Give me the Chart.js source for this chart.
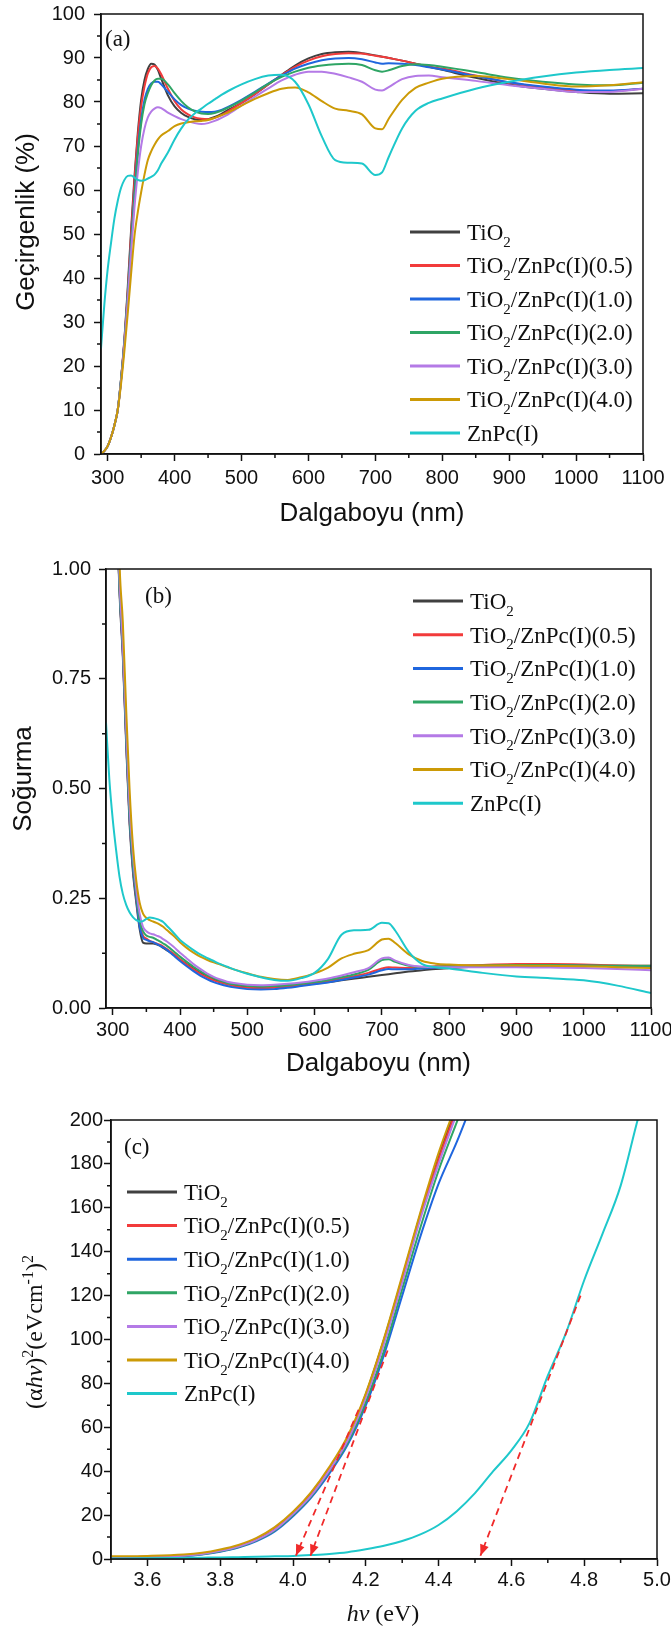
<!DOCTYPE html>
<html>
<head>
<meta charset="utf-8">
<script src="https://cdn.jsdelivr.net/npm/chart.js@4.4.0/dist/chart.umd.min.js"></script>
<style>
  html, body { margin: 0; padding: 0; background: #fff; }
  #wrap { position: relative; width: 671px; height: 1634px; overflow: hidden; }
  canvas { position: absolute; left: 0; }
</style>
</head>
<body>
<div id="wrap">
  <canvas id="chartA" width="671" height="545" style="top:0"></canvas>
  <canvas id="chartB" width="671" height="555" style="top:545px"></canvas>
  <canvas id="chartC" width="671" height="534" style="top:1100px"></canvas>
</div>
<script>
// ---- veriler ----
const seriesNames = ['TiO_{2}', 'TiO_{2}/ZnPc(I)(0.5)', 'TiO_{2}/ZnPc(I)(1.0)', 'TiO_{2}/ZnPc(I)(2.0)',
    'TiO_{2}/ZnPc(I)(3.0)', 'TiO_{2}/ZnPc(I)(4.0)', 'ZnPc(I)'];

// dalga boyu (nm), panel a ve b
const wl = [290,295,300,305,310,315,320,325,330,335,340,345,350,355,360,365,370,375,380,
    390,400,410,420,430,440,450,460,470,480,500,520,540,560,580,600,620,640,660,680,
    700,710,720,740,760,780,800,850,900,950,1000,1050,1100];
const wlTicks = [300,400,500,600,700,800,900,1000,1100];

// (a) gecirgenlik (%)
const transTicks = [0,10,20,30,40,50,60,70,80,90,100];
const tTiO2 = [0,0.7,1.8,3.8,6.5,10,17,26,38,51,63,73,80.5,85,87.5,88.7,88.5,87.3,85.3,
    81.5,79,77.5,76.6,76.1,75.9,76.1,76.6,77.3,78.2,79.8,81.8,84,86.2,88.3,89.9,90.9,91.3,91.4,91.1,
    90.6,90.3,90,89.4,88.7,88,87.3,85.5,84,83,82.3,81.9,82];
const tZ05 = [0,0.7,1.8,3.8,6.5,10,17,26,37,50,62,72,79,83.5,86.5,87.9,88.2,87.6,86.3,
    83,80.2,78.3,77.2,76.5,76.2,76.1,76.4,77,77.9,79.8,81.8,84,86.1,88,89.4,90.4,90.9,91.1,91,
    90.5,90.3,90,89.4,88.7,88,87.6,86,84.4,83.4,82.6,82.5,83];
const tZ10 = [0,0.7,1.8,3.8,6.5,10,17,25.5,36,48,59,69,76,80.5,83,84.2,84.6,84.6,84,
    82.3,80.6,79.3,78.5,78,77.8,77.7,77.8,78.2,78.9,80.5,82.3,84.2,86,87.6,88.7,89.5,89.9,90,89.7,
    89,88.7,88.8,88.7,88.4,87.9,87.4,85.9,84.5,83.5,82.8,82.6,83];
const tZ20 = [0,0.7,1.8,3.8,6.5,10,17,25.5,36,47.5,58.5,68,75,79.5,82,83.8,84.9,85.3,85.3,
    84,82,80.2,78.8,77.9,77.4,77.3,77.5,78,78.7,80.3,82.2,84.1,85.7,86.9,87.8,88.3,88.6,88.7,88.4,
    87.2,86.9,87.2,88.2,88.6,88.4,88,86.8,85.5,84.6,84,83.8,84.4];
const tZ30 = [0,0.7,1.8,3.8,6.5,10,16.5,25,35,46,56,64,70,74,76.5,77.8,78.5,78.8,78.6,
    77.6,76.8,76.1,75.6,75.2,75,75.2,75.7,76.4,77.2,79.2,81.2,83.1,84.9,86.2,86.9,86.9,86.4,85.6,84.6,
    82.8,82.6,83.4,85.2,85.9,86,85.6,84.8,83.8,83,82.3,82.3,83];
const tZ40 = [0,0.7,1.8,3.8,6.5,10,16,23.5,32,41,49.5,55,59.5,63.5,66.8,68.8,70.3,71.5,72.4,
    73.4,74.5,75.1,75.4,75.6,75.7,75.9,76.4,77,77.6,79.2,80.7,82,83,83.3,82.2,80.2,78.5,78,77.2,
    74,73.8,76.2,80.5,83.2,84.4,85.3,85.9,85.2,84.2,83.5,83.8,84.5];
const tZnPc = [24,34,42,48,53.5,57.5,60.5,62.3,63.2,63.3,62.8,62.3,62.1,62.2,62.6,63,63.5,64.5,66,
    68.5,71.5,74,76,77.4,78.5,79.6,80.6,81.6,82.5,84,85.2,86,86.2,84.6,79.5,72.2,66.8,66.2,66,
    63.4,64,67.5,74,78,79.8,80.8,83,84.6,85.8,86.7,87.3,87.7];

// (b) sogurma
const absTicks = [0,0.25,0.5,0.75,1];
const aTiO2 = [3,2.6,2,1.25,0.95,0.8,0.6,0.42,0.31,0.24,0.18,0.149,0.147,0.147,0.147,0.145,0.142,0.137,0.132,
    0.122,0.11,0.1,0.09,0.08,0.072,0.066,0.06,0.056,0.052,0.048,0.047,0.049,0.052,0.054,0.056,0.059,0.063,0.067,0.071,
    0.075,0.077,0.079,0.083,0.086,0.089,0.091,0.095,0.097,0.097,0.097,0.096,0.095];
const aZ05 = [3,2.6,2,1.25,0.96,0.81,0.61,0.43,0.32,0.25,0.19,0.165,0.158,0.153,0.15,0.147,0.144,0.14,0.135,
    0.124,0.111,0.099,0.088,0.078,0.07,0.063,0.058,0.054,0.05,0.046,0.045,0.046,0.049,0.052,0.056,0.061,0.067,0.073,0.08,
    0.09,0.093,0.092,0.091,0.093,0.095,0.096,0.098,0.1,0.1,0.099,0.097,0.096];
const aZ10 = [3,2.6,2,1.25,0.96,0.81,0.61,0.43,0.32,0.25,0.185,0.16,0.155,0.152,0.15,0.146,0.142,0.138,0.133,
    0.12,0.107,0.095,0.084,0.074,0.066,0.059,0.054,0.05,0.047,0.043,0.042,0.043,0.046,0.05,0.054,0.058,0.064,0.07,0.076,
    0.086,0.089,0.088,0.088,0.09,0.092,0.093,0.095,0.096,0.096,0.096,0.095,0.094];
const aZ20 = [3,2.6,2,1.25,0.96,0.82,0.62,0.44,0.33,0.26,0.2,0.175,0.165,0.162,0.16,0.156,0.152,0.147,0.142,
    0.13,0.117,0.105,0.094,0.084,0.075,0.068,0.062,0.057,0.054,0.05,0.049,0.05,0.052,0.055,0.059,0.064,0.07,0.077,0.087,
    0.109,0.111,0.105,0.096,0.093,0.094,0.095,0.097,0.098,0.098,0.097,0.096,0.096];
const aZ30 = [3,2.6,2,1.28,0.98,0.83,0.64,0.46,0.35,0.27,0.215,0.185,0.175,0.17,0.168,0.165,0.162,0.157,0.152,
    0.14,0.126,0.113,0.1,0.089,0.079,0.071,0.065,0.06,0.057,0.053,0.052,0.053,0.055,0.058,0.062,0.067,0.074,0.082,0.091,
    0.113,0.115,0.108,0.098,0.094,0.093,0.093,0.093,0.093,0.092,0.091,0.089,0.086];
const aZ40 = [3,2.7,2.1,1.4,1.02,0.88,0.68,0.5,0.37,0.29,0.24,0.215,0.205,0.2,0.197,0.194,0.19,0.185,0.178,
    0.165,0.15,0.137,0.126,0.117,0.11,0.104,0.099,0.093,0.088,0.079,0.071,0.066,0.064,0.07,0.079,0.092,0.113,0.124,0.132,
    0.156,0.158,0.148,0.122,0.107,0.101,0.099,0.097,0.097,0.096,0.095,0.093,0.091];
const aZnPc = [0.65,0.52,0.43,0.36,0.3,0.26,0.235,0.218,0.207,0.2,0.197,0.198,0.203,0.206,0.205,0.203,0.2,0.196,0.188,
    0.172,0.155,0.143,0.132,0.122,0.114,0.107,0.1,0.094,0.088,0.078,0.07,0.064,0.062,0.068,0.08,0.112,0.167,0.177,0.178,
    0.194,0.193,0.176,0.128,0.1,0.093,0.09,0.08,0.072,0.068,0.063,0.051,0.034];

// (c) Tauc grafigi
const ev = [3.5,3.6,3.7,3.75,3.8,3.85,3.9,3.95,4.0,4.05,4.1,4.15,4.2,4.25,4.3,4.35,4.4,4.45,4.5,
    4.55,4.6,4.65,4.7,4.75,4.8,4.85,4.9,4.95,5.0];
const evTicks = [3.6,3.8,4.0,4.2,4.4,4.6,4.8,5.0];
const taucTicks = [0,20,40,60,80,100,120,140,160,180,200];
const none10 = [null,null,null,null,null,null,null,null,null,null];
const eTiO2 = [0.8,1,1.6,2.4,3.8,5.8,8.8,13.3,20.5,29.5,40.5,54.5,75,100,128,157,183,207,230].concat(none10);
const eZ05 = [0.8,1,1.6,2.4,3.8,5.8,8.9,13.5,21,30,41,55,74.5,99.5,127,156,182,205,228].concat(none10);
const eZ10 = [0.7,0.9,1.3,2,3.3,5.2,8.2,12.6,19.5,28,39,52,70,93,120,147,171,190,211].concat(none10);
const eZ20 = [0.7,0.9,1.4,2.2,3.5,5.5,8.5,13,20,28.5,40,53,71.5,95,123,151,177,199,221].concat(none10);
const eZ30 = [0.8,1,1.5,2.3,3.7,5.7,8.7,13.3,20.5,29,40.5,54,73.5,98,126,155,180,203,226].concat(none10);
const eZ40 = [1.2,1.4,2,2.8,4.3,6.4,9.6,14.5,21.5,30.5,42,56,75.5,100.5,129,158,185,208,231].concat(none10);
const eZnPc = [0.2,0.3,0.5,0.6,0.7,0.85,1,1.2,1.4,1.8,2.3,3.1,4.4,6,8.2,11.2,15.5,21.8,30,
    40,49.5,62,83.5,103,127,148,170,202,230];
// bant araligi teget cizgileri (baslangic, bitis)
const gapLines = [[[4.18, 68], [4.008, 1.5]], [[4.26, 95], [4.048, 1.5]], [[4.79, 120], [4.515, 1.5]]];

// ---- stil ----
const seriesColors = ['#404040', '#f23b3b', '#1f66de', '#2fa565', '#b47ae6', '#cc9a06', '#1ec8cb'];
const sans = '"Liberation Sans", Arial, sans-serif';
const serif = '"Liberation Serif", "Times New Roman", serif';

function makeSets(xs, cols) {
    return cols.map((ys, i) => ({
        label: seriesNames[i],
        data: xs.map((x, j) => ({ x: x, y: ys[j] })),
        borderColor: seriesColors[i],
        borderWidth: 2,
        pointRadius: 0,
        cubicInterpolationMode: 'monotone',
        order: cols.length - i
    }));
}

// alt/ust simge ve italik destekli yazi
function drawRich(ctx, str, x, y, size, align, rot, family) {
    const fam = family || serif;
    const parts = [];
    str.split(/(_\{[^}]*\}|\^\{[^}]*\}|\*[^*]+\*)/).forEach(p => {
        if (!p) return;
        if (p[0] === '_') parts.push({ t: p.slice(2, -1), k: 'sub' });
        else if (p[0] === '^') parts.push({ t: p.slice(2, -1), k: 'sup' });
        else if (p[0] === '*') parts.push({ t: p.slice(1, -1), k: 'it' });
        else parts.push({ t: p, k: 'n' });
    });
    const fontOf = k => (k === 'it' ? 'italic ' : '') +
        Math.round(k === 'sub' || k === 'sup' ? size * 0.65 : size) + 'px ' + fam;
    let w = 0;
    parts.forEach(p => { ctx.font = fontOf(p.k); p.w = ctx.measureText(p.t).width; w += p.w; });
    ctx.save();
    ctx.translate(x, y);
    if (rot) ctx.rotate(rot);
    ctx.textAlign = 'left';
    ctx.textBaseline = 'alphabetic';
    let cx = align === 'center' ? -w / 2 : 0;
    parts.forEach(p => {
        ctx.font = fontOf(p.k);
        const dy = p.k === 'sub' ? size * 0.3 : (p.k === 'sup' ? -size * 0.4 : 0);
        ctx.fillText(p.t, cx, size * 0.35 + dy);
        cx += p.w;
    });
    ctx.restore();
}

// cerceve, ara tikler, oklar, lejant, yazilar
const decor = {
    id: 'decor',
    afterDatasetsDraw(chart, args, o) {
        const { ctx, chartArea: a, scales: { x, y } } = chart;
        ctx.save();
        ctx.strokeStyle = '#111';
        ctx.lineWidth = 1.5;
        ctx.strokeRect(a.left, a.top, a.right - a.left, a.bottom - a.top);

        ctx.beginPath();
        const minor = (sc, step, fn) => {
            const major = sc.ticks.map(t => t.value);
            for (let i = Math.ceil(sc.min / step - 1e-9); i * step <= sc.max + 1e-9; i++) {
                const v = i * step;
                if (major.some(m => Math.abs(m - v) < step / 10)) continue;
                fn(sc.getPixelForValue(v));
            }
        };
        minor(x, o.minorX, px => { ctx.moveTo(px, a.bottom); ctx.lineTo(px, a.bottom + 4); });
        minor(y, o.minorY, py => { ctx.moveTo(a.left, py); ctx.lineTo(a.left - 4, py); });
        ctx.stroke();

        chart.data.datasets.forEach((ds, i) => {
            if (!ds.arrow) return;
            const pts = chart.getDatasetMeta(i).data;
            const p = pts[pts.length - 1], q = pts[pts.length - 2];
            ctx.save();
            ctx.translate(p.x, p.y);
            ctx.rotate(Math.atan2(p.y - q.y, p.x - q.x));
            ctx.fillStyle = ds.borderColor;
            ctx.beginPath();
            ctx.moveTo(0, 0); ctx.lineTo(-11, -4.5); ctx.lineTo(-11, 4.5);
            ctx.closePath(); ctx.fill();
            ctx.restore();
        });

        if (o.legend) {
            const L = o.legend;
            let k = 0;
            chart.data.datasets.forEach(ds => {
                if (ds.arrow) return;
                const yy = L.y + k * L.dy;
                ctx.strokeStyle = ds.borderColor;
                ctx.lineWidth = 3;
                ctx.beginPath(); ctx.moveTo(L.x, yy); ctx.lineTo(L.x + 50, yy); ctx.stroke();
                ctx.fillStyle = '#111';
                drawRich(ctx, ds.label, L.x + 57, yy, 22.5, 'left');
                k++;
            });
        }
        ctx.fillStyle = '#111';
        (o.texts || []).forEach(t => drawRich(ctx, t.s, t.x, t.y, t.size || 23, t.align || 'left', t.rot, t.sans ? sans : serif));
        ctx.restore();
    }
};

function xScale(min, max, ticks, fmt, h, tickPad, title, titlePad) {
    return {
        type: 'linear', min: min, max: max,
        afterBuildTicks: s => { s.ticks = ticks.map(v => ({ value: v })); },
        afterFit: s => { s.height = h; s.paddingLeft = 0; s.paddingRight = 0; },
        ticks: { callback: fmt, font: { family: sans, size: 20 }, color: '#111', padding: tickPad, maxRotation: 0, autoSkip: false },
        grid: { drawOnChartArea: false, tickLength: 7, tickWidth: 1.5, tickColor: '#111' },
        border: { width: 1.5, color: '#111' },
        title: title ? { display: true, text: title, color: '#111', font: { family: sans, size: 26 }, padding: { top: 0, bottom: titlePad } } : { display: false }
    };
}
function yScale(min, max, ticks, fmt, w, tickPad) {
    return {
        type: 'linear', min: min, max: max,
        afterBuildTicks: s => { s.ticks = ticks.map(v => ({ value: v })); },
        afterFit: s => { s.width = w; s.paddingTop = 0; s.paddingBottom = 0; },
        ticks: { callback: fmt, font: { family: sans, size: 20 }, color: '#111', padding: tickPad, autoSkip: false },
        grid: { drawOnChartArea: false, tickLength: 7, tickWidth: 1.5, tickColor: '#111' },
        border: { width: 1.5, color: '#111' }
    };
}
const baseOpts = { responsive: false, animation: false, events: [] };

// (a)
new Chart(document.getElementById('chartA'), {
    type: 'line',
    data: { datasets: makeSets(wl, [tTiO2, tZ05, tZ10, tZ20, tZ30, tZ40, tZnPc]) },
    options: Object.assign({}, baseOpts, {
        layout: { padding: { top: 14, right: 28, left: 0, bottom: 0 } },
        plugins: {
            legend: { display: false }, tooltip: { enabled: false },
            decor: {
                minorX: 50, minorY: 5, legend: { x: 410, y: 232, dy: 33.5 },
                texts: [
                    { s: '(a)', x: 105, y: 38 },
                    { s: 'Geçirgenlik (%)', x: 25, y: 222, size: 26, align: 'center', rot: -Math.PI / 2, sans: true }
                ]
            }
        },
        scales: {
            x: xScale(290, 1100, wlTicks, v => v, 91, 5, 'Dalgaboyu (nm)', 16),
            y: yScale(0, 100, transTicks, v => v, 101, 9)
        }
    }),
    plugins: [decor]
});

// (b)
new Chart(document.getElementById('chartB'), {
    type: 'line',
    data: { datasets: makeSets(wl, [aTiO2, aZ05, aZ10, aZ20, aZ30, aZ40, aZnPc]) },
    options: Object.assign({}, baseOpts, {
        layout: { padding: { top: 24, right: 20, left: 0, bottom: 0 } },
        plugins: {
            legend: { display: false }, tooltip: { enabled: false },
            decor: {
                minorX: 50, minorY: 0.125, legend: { x: 413, y: 56, dy: 33.7 },
                texts: [
                    { s: '(b)', x: 145, y: 50 },
                    { s: 'Soğurma', x: 22, y: 234, size: 26, align: 'center', rot: -Math.PI / 2, sans: true }
                ]
            }
        },
        scales: {
            x: xScale(290, 1100, wlTicks, v => v, 92, 3, 'Dalgaboyu (nm)', 21),
            y: yScale(0, 1, absTicks, v => v.toFixed(2), 106, 8)
        }
    }),
    plugins: [decor]
});

// (c)
const tauSets = makeSets(ev, [eTiO2, eZ05, eZ10, eZ20, eZ30, eZ40, eZnPc]);
gapLines.forEach(g => tauSets.push({
    label: '', arrow: true,
    data: g.map(p => ({ x: p[0], y: p[1] })),
    borderColor: '#f02a2a', borderWidth: 1.8, borderDash: [7, 5], pointRadius: 0, order: -1
}));
new Chart(document.getElementById('chartC'), {
    type: 'line',
    data: { datasets: tauSets },
    options: Object.assign({}, baseOpts, {
        layout: { padding: { top: 20, right: 14, left: 0, bottom: 0 } },
        plugins: {
            legend: { display: false }, tooltip: { enabled: false },
            decor: {
                minorX: 0.1, minorY: 10, legend: { x: 127, y: 92, dy: 33.6 },
                texts: [
                    { s: '(c)', x: 124, y: 46 },
                    { s: '*hν* (eV)', x: 383, y: 513, size: 24, align: 'center' },
                    { s: '(α*hν*)^{2}(eVcm^{-1})^{2}', x: 34, y: 232, size: 24, align: 'center', rot: -Math.PI / 2 }
                ]
            }
        },
        scales: {
            x: xScale(3.5, 5.0, evTicks, v => v.toFixed(1), 75, 2),
            y: yScale(0, 200, taucTicks, v => v, 111, 1)
        }
    }),
    plugins: [decor]
});
</script>
</body>
</html>
